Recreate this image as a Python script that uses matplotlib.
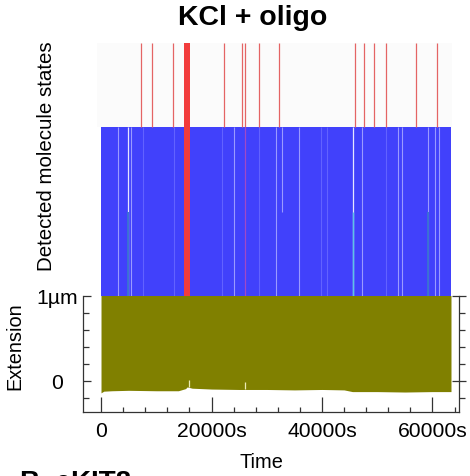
import matplotlib
matplotlib.use("Agg")
import matplotlib.pyplot as plt
from matplotlib.ticker import FixedLocator, MultipleLocator

plt.rcParams['font.family'] = ['Liberation Sans', 'DejaVu Sans']

# ---- detected molecule states (time in s) ----
t_start, t_end = 0, 63350
blue_level, top_level = 2, 3

# short visits to the top (red) state
bound_events = [7300, 9290, 13030, 22210, 25450, 28650, 32160,
                46030, 47550, 49360, 51590, 57070, 60820]
# long stay in the top state
bound_block = [15080, 16110]
# short event that reaches through all levels
deep_event = 26100

# brief drops out of the blue state
drop_bright = [4940, 45670]
drop_light = [3130, 5380, 24070, 31670, 35890, 47190, 53810, 54430,
              59130, 60450, 61230]
drop_faint = [7660, 13160, 21960, 28540, 39820, 40850, 51590]
drop_upper_only = [32700]
lower_cyan = [45670]
lower_steel = [4940, 59130]

# ---- extension trace: lower envelope (µm) ----
ext_t = [0, 500, 2000, 5000, 10000, 14000, 15300, 15600, 16500, 20000,
         25000, 30000, 35000, 40000, 44000, 45500, 50000, 55000, 60000, 63350]
ext_low = [-0.14, -0.12, -0.115, -0.11, -0.115, -0.115, -0.09, -0.07, -0.085,
           -0.095, -0.10, -0.10, -0.105, -0.10, -0.105, -0.125, -0.125,
           -0.13, -0.125, -0.125]
ext_high = [1.05] * len(ext_t)
spike_t = [15930, 26060]
spike_base = [-0.075, -0.10]
spike_top = [0.012, -0.008]

x_ticks = [0, 20000, 40000, 60000]
x_labels = ['0', '20000s', '40000s', '60000s']
y_ticks = [0, 1]
y_labels = ['0', '1µm']

BLUE = '#4141fb'
RED = '#f23c3c'
RED_THIN = '#e46464'
OLIVE = '#808000'

fig = plt.figure(figsize=(4.70, 4.77), dpi=100)
W, H = 470, 477
xlim = (-3260, 64800)

# upper panel: states
ax_s = fig.add_axes([83 / W, 180 / H, 376 / W, 256 / H])
ax_s.set_xlim(*xlim)
ax_s.set_ylim(0, 3.036)
ax_s.axis('off')
ax_s.fill_between([t_start - 700, t_end + 200], blue_level, top_level,
                  color='#fbfbfb', lw=0)
ax_s.fill_between([t_start, t_end], 0, blue_level, color=BLUE, lw=0)
ax_s.vlines(drop_faint, 0, blue_level, color='#6262ff', lw=0.8)
ax_s.vlines(drop_light, 0, blue_level, color='#9a9aff', lw=0.8)
ax_s.vlines(drop_bright, 0, blue_level, color='#e6e6ff', lw=0.9)
ax_s.vlines(drop_upper_only, 1, blue_level, color='#9a9aff', lw=0.8)
ax_s.vlines(lower_steel, 0, 1, color='#3a6fd4', lw=1.4)
ax_s.vlines(lower_cyan, 0, 1, color='#5cc4e6', lw=1.0)
ax_s.vlines(bound_events, blue_level, top_level, color=RED_THIN, lw=0.9)
ax_s.vlines([deep_event], blue_level, top_level, color=RED_THIN, lw=0.9)
ax_s.vlines([deep_event], 0, blue_level, color='#a048c8', lw=0.9)
ax_s.fill_between(bound_block, 0, top_level, color=RED, lw=0)
ax_s.text(-0.096, 0.551, 'Detected molecule states', rotation=90,
          transform=ax_s.transAxes, ha='center', va='center', fontsize=14.8)

# lower panel: extension
ax_e = fig.add_axes([83 / W, 64 / H, 376 / W, 116 / H])
ax_e.set_xlim(*xlim)
ax_e.set_ylim(-0.365, 1.0)
ax_e.fill_between(ext_t, ext_low, ext_high, color=OLIVE, lw=0)
ax_e.vlines(spike_t, spike_base, spike_top, color='#ecebb4', lw=0.9)
ax_e.spines['top'].set_visible(False)
ax_e.spines['right'].set_visible(False)
for s in ['left', 'bottom']:
    ax_e.spines[s].set_color('#333333')
    ax_e.spines[s].set_linewidth(0.9)

ax_e.xaxis.set_major_locator(FixedLocator(x_ticks))
ax_e.set_xticklabels(x_labels)
ax_e.xaxis.set_minor_locator(MultipleLocator(4000))
ax_e.tick_params(axis='x', which='major', direction='in', length=11,
                 width=0.9, color='#333333', labelsize=15.2, pad=6.5)
ax_e.tick_params(axis='x', which='minor', direction='in', length=3.5,
                 width=0.9, color='#333333')

ax_e.yaxis.set_major_locator(FixedLocator(y_ticks))
ax_e.set_yticklabels(y_labels)
ax_e.yaxis.set_minor_locator(MultipleLocator(0.2))
ax_e.tick_params(axis='y', which='major', direction='in', length=6,
                 width=0.9, color='#333333', labelsize=15.2, pad=18.5)
ax_e.tick_params(axis='y', which='minor', direction='in', length=4,
                 width=0.9, color='#333333')
for lab in ax_e.get_yticklabels():
    lab.set_horizontalalignment('center')

sec = ax_e.secondary_yaxis('right')
sec.set_yticks(y_ticks)
sec.set_yticklabels(['', ''])
sec.yaxis.set_minor_locator(MultipleLocator(0.2))
sec.spines['right'].set_color('#333333')
sec.spines['right'].set_linewidth(0.9)
sec.tick_params(which='major', direction='inout', length=10, width=0.9,
                color='#333333')
sec.tick_params(which='minor', direction='out', length=4, width=0.9,
                color='#333333')

ax_e.text(-0.181, 0.578, 'Extension', rotation=90, transform=ax_e.transAxes,
          ha='center', va='center', fontsize=14.4)

fig.text(261 / W, 1 - 463 / H, 'Time', ha='center', va='center', fontsize=14.4)
fig.text(252.5 / W, 1 - 18 / H, 'KCl + oligo', ha='center', va='center',
         fontsize=20.5, fontweight='bold')
fig.text(20 / W, 1 - 490 / H, 'B  eKIT8', ha='left', va='baseline',
         fontsize=20, fontweight='bold')

fig.savefig('out.png', dpi=100)
